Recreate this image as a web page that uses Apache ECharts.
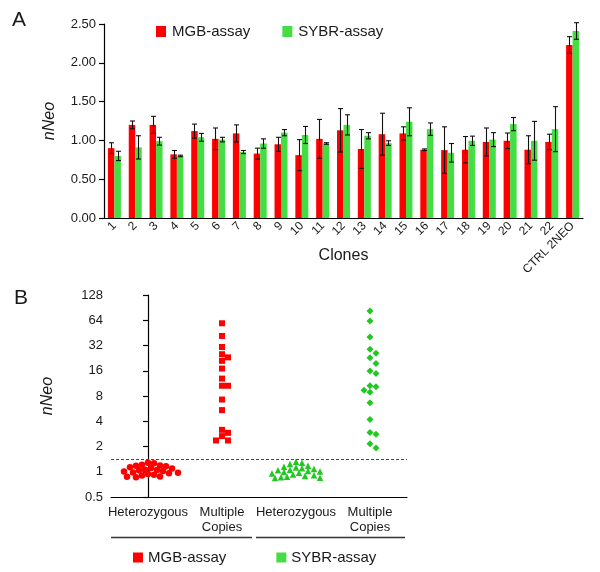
<!DOCTYPE html>
<html>
<head>
<meta charset="utf-8">
<script src="https://cdn.jsdelivr.net/npm/echarts@6/dist/echarts.min.js"></script>
<style>html,body{margin:0;padding:0;background:#fff}#c{width:600px;height:572px}</style>
</head>
<body>
<div id="c"></div>
<script>
// ---- Panel A data ----
const clones = ['1','2','3','4','5','6','7','8','9','10','11','12','13','14','15','16','17','18','19','20','21','22','CTRL 2NEO'];
const mgbMean = [0.90,1.20,1.20,0.82,1.12,1.02,1.09,0.83,0.95,0.81,1.02,1.13,0.89,1.08,1.09,0.88,0.875,0.88,0.98,0.995,0.88,0.98,2.23];
const mgbErr  = [0.07,0.05,0.11,0.05,0.09,0.14,0.11,0.07,0.09,0.20,0.25,0.28,0.25,0.27,0.085,0.01,0.30,0.17,0.18,0.10,0.18,0.10,0.107];
const sybrMean = [0.80,0.91,0.99,0.80,1.04,1.01,0.85,0.96,1.10,1.07,0.96,1.20,1.06,0.965,1.24,1.145,0.84,0.995,1.01,1.21,0.995,1.145,2.41];
const sybrErr  = [0.06,0.15,0.05,0.01,0.05,0.03,0.02,0.06,0.04,0.11,0.01,0.13,0.04,0.03,0.18,0.08,0.12,0.06,0.09,0.085,0.25,0.29,0.107];
const yTicksA = [0, 0.5, 1, 1.5, 2, 2.5];

// ---- Panel B data ----
const groupLabels = ['Heterozygous','Multiple\nCopies','Heterozygous','Multiple\nCopies'];
const mgbHet = [1.28,1.26,1.21,1.19,1.18,1.16,1.13,1.11,1.09,1.06,1.05,1.04,1.02,1.01,0.98,0.97,0.96,0.94,0.92,0.90,0.88,0.87,0.86];
const mgbMulti = [58.9,41.6,30.7,25.2,23.1,21.0,17.0,12.9,10.6,10.6,7.26,5.43,3.16,2.91,2.66,2.36,2.36];
const sybrHet = [1.32,1.28,1.24,1.18,1.15,1.12,1.10,1.08,1.06,1.04,1.02,1.01,0.99,0.97,0.95,0.93,0.91,0.89,0.87,0.86,0.85,0.84];
const sybrMulti = [82.3,62.7,40.5,28.8,25.8,22.9,19.5,15.9,14.8,10.6,10.3,9.38,8.88,6.63,4.20,2.94,2.79,2.16,1.92];
const cutoff = 1.4;
const yTicksB = [0.5,1,2,4,8,16,32,64,128];

const RED = '#ff0000', GREEN = '#44dd44', GREEN_B = '#22c822';
const FONT = 'Liberation Sans, Arial, sans-serif';
const TXT = '#1a1a1a';

// simple beeswarm layout (pixel-based collision), returns x values in axis units
function swarm(values, center, step, d) {
  const pxPerUnit = 74, pxPerDoubling = 25.25;
  const order = values.map((v, i) => i).sort((a, b) => values[b] - values[a]);
  const placed = [];
  const xs = new Array(values.length);
  order.forEach(i => {
    const y = Math.log2(values[i]) * pxPerDoubling;
    for (let k = 0; k < 80; k++) {
      const off = (k === 0) ? 0 : (k % 2 ? (k + 1) / 2 : -k / 2);
      const dx = off * step;
      const hit = placed.some(p => (p[0] - dx) ** 2 + (p[1] - y) ** 2 < d * d);
      if (!hit) { placed.push([dx, y]); xs[i] = center + dx / pxPerUnit; break; }
    }
  });
  return values.map((v, i) => [xs[i], v]);
}
function items(values, center, symbol, size, step, d) {
  return swarm(values, center, step, d).map(p => ({ value: p, symbol: symbol, symbolSize: size }));
}

function errSeries(name, means, errs, offset) {
  return {
    type: 'custom', name: name, xAxisIndex: 0, yAxisIndex: 0, z: 5,
    data: means.map((m, i) => [i, m - errs[i], m + errs[i]]),
    renderItem: function (params, api) {
      const top = api.coord([api.value(0), api.value(2)]);
      const bot = api.coord([api.value(0), api.value(1)]);
      const x = Math.round(top[0] + offset) + 0.5;
      const cap = 2.5;
      const st = { stroke: '#111', lineWidth: 1.1 };
      return { type: 'group', children: [
        { type: 'line', shape: { x1: x, y1: top[1], x2: x, y2: bot[1] }, style: st },
        { type: 'line', shape: { x1: x - cap, y1: top[1], x2: x + cap, y2: top[1] }, style: st },
        { type: 'line', shape: { x1: x - cap, y1: bot[1], x2: x + cap, y2: bot[1] }, style: st }
      ]};
    }
  };
}

const chart = echarts.init(document.getElementById('c'), null, { renderer: 'canvas' });
const axisLine = { lineStyle: { color: '#000', width: 1.2 } };
const axisTick = { lineStyle: { color: '#000', width: 1.2 }, length: 5 };

chart.setOption({
  animation: false,
  textStyle: { fontFamily: FONT, color: TXT },
  grid: [
    { left: 104, top: 24, width: 479, height: 194, containLabel: false },
    { left: 111, top: 295, width: 296, height: 202, containLabel: false }
  ],
  legend: [
    { data: ['MGB-assay', 'SYBR-assay'], left: 151, top: 19, icon: 'rect', itemWidth: 10, itemHeight: 11,
      itemGap: 32, selectedMode: false, textStyle: { fontSize: 15, fontFamily: FONT, color: TXT, padding: [0, 0, 0, 1] } },
    { data: ['MGB-assay', 'SYBR-assay'], left: 128, top: 545, icon: 'rect', itemWidth: 10, itemHeight: 10,
      itemGap: 50, selectedMode: false, textStyle: { fontSize: 15, fontFamily: FONT, color: TXT } }
  ],
  xAxis: [
    { gridIndex: 0, type: 'category', data: clones,
      axisLine: axisLine, axisTick: axisTick,
      axisLabel: { rotate: 45, interval: 0, fontSize: 12, margin: 6, color: TXT, fontFamily: FONT },
      name: 'Clones', nameLocation: 'middle', nameGap: 30, nameMoveOverlap: false,
      nameTextStyle: { fontSize: 16, color: TXT, fontFamily: FONT } },
    { gridIndex: 1, type: 'category', data: groupLabels,
      axisLine: axisLine, axisTick: Object.assign({ alignWithLabel: true }, axisTick),
      axisLabel: { interval: 0, fontSize: 13, lineHeight: 15, margin: 8, color: TXT, fontFamily: FONT } },
    { gridIndex: 1, type: 'value', min: -0.5, max: 3.5, show: false }
  ],
  yAxis: [
    { gridIndex: 0, type: 'value', min: yTicksA[0], max: yTicksA[yTicksA.length - 1], interval: 0.5,
      axisLine: Object.assign({ show: true }, axisLine), axisTick: Object.assign({ show: true }, axisTick),
      splitLine: { show: false },
      axisLabel: { formatter: v => v.toFixed(2), fontSize: 13, margin: 8, color: TXT, fontFamily: FONT },
      name: 'nNeo', nameLocation: 'middle', nameRotate: 90, nameGap: 46, nameMoveOverlap: false,
      nameTextStyle: { fontSize: 16, fontStyle: 'italic', color: TXT, fontFamily: FONT } },
    { gridIndex: 1, type: 'log', logBase: 2, min: yTicksB[0], max: yTicksB[yTicksB.length - 1], interval: 1,
      axisLine: Object.assign({ show: true }, axisLine), axisTick: Object.assign({ show: true }, axisTick),
      splitLine: { show: false }, minorTick: { show: false },
      axisLabel: { formatter: v => String(+Number(v).toPrecision(6)), fontSize: 13, margin: 8, color: TXT, fontFamily: FONT },
      name: 'nNeo', nameLocation: 'middle', nameRotate: 90, nameGap: 55, nameMoveOverlap: false,
      nameTextStyle: { fontSize: 16, fontStyle: 'italic', color: TXT, fontFamily: FONT } }
  ],
  series: [
    { type: 'bar', name: 'MGB-assay', xAxisIndex: 0, yAxisIndex: 0, data: mgbMean,
      barWidth: 6.5, barGap: '0%', itemStyle: { color: RED } },
    { type: 'bar', name: 'SYBR-assay', xAxisIndex: 0, yAxisIndex: 0, data: sybrMean,
      barWidth: 6.5, barGap: '0%', itemStyle: { color: GREEN } },
    errSeries('errMGB', mgbMean, mgbErr, -3.25),
    errSeries('errSYBR', sybrMean, sybrErr, 3.25),
    { type: 'scatter', name: 'MGB-assay', xAxisIndex: 2, yAxisIndex: 1,
      itemStyle: { color: RED, opacity: 1 },
      data: items(mgbHet, 0, 'circle', 6.5, 3, 5.3).concat(items(mgbMulti, 1, 'rect', 6, 6, 6)),
      markLine: { silent: true, symbol: 'none', label: { show: false },
        lineStyle: { type: [3, 2], color: '#444', width: 1 },
        data: [{ yAxis: cutoff }] } },
    { type: 'scatter', name: 'SYBR-assay', xAxisIndex: 2, yAxisIndex: 1,
      itemStyle: { color: GREEN_B, opacity: 1 },
      data: items(sybrHet, 2, 'triangle', 6.5, 3, 5.3).concat(items(sybrMulti, 3, 'diamond', 7, 6, 6)) }
  ],
  graphic: [
    { type: 'text', left: 12, top: 10, style: { text: 'A', fontSize: 21, fontFamily: FONT, fill: TXT } },
    { type: 'text', left: 14, top: 288, style: { text: 'B', fontSize: 21, fontFamily: FONT, fill: TXT } },
    { type: 'line', shape: { x1: 111, y1: 537.5, x2: 252, y2: 537.5 }, style: { stroke: '#333', lineWidth: 1.3 } },
    { type: 'line', shape: { x1: 256, y1: 537.5, x2: 405, y2: 537.5 }, style: { stroke: '#333', lineWidth: 1.3 } }
  ]
});
</script>
</body>
</html>
